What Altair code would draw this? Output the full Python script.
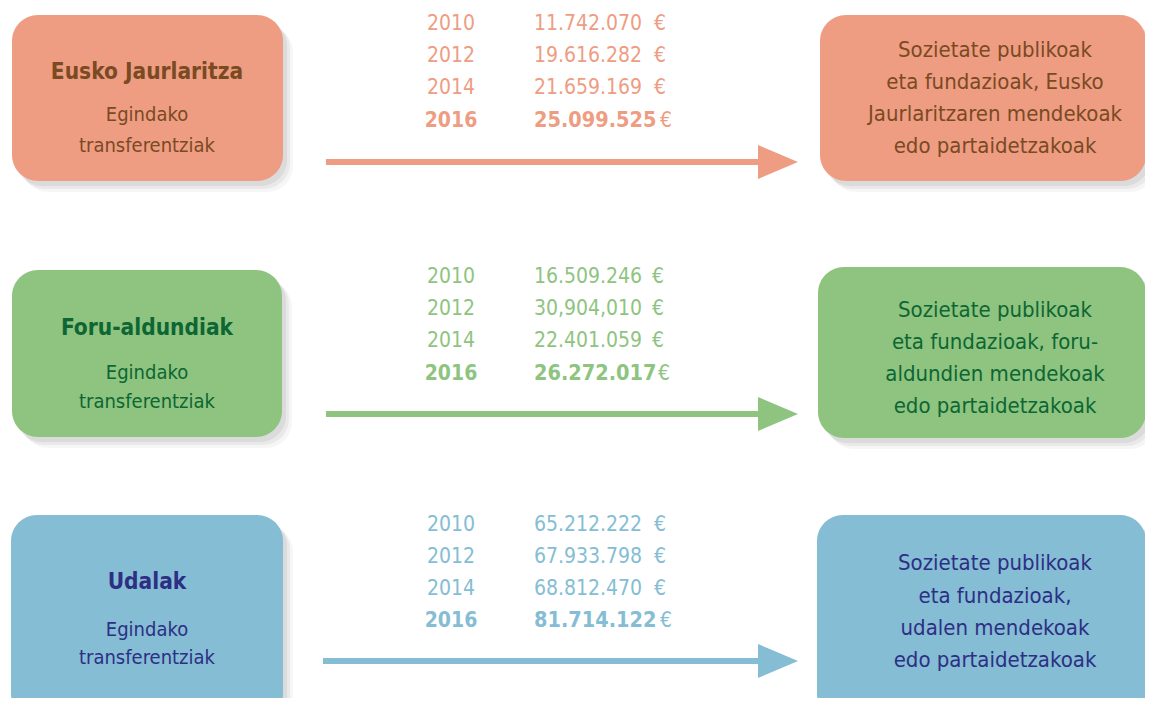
import altair as alt
import pandas as pd

# ---------------- data ----------------
sources = ["Eusko Jaurlaritza", "Foru-aldundiak", "Udalak"]
subtitle = ["Egindako", "transferentziak"]
targets = [
    ["Sozietate publikoak", "eta fundazioak, Eusko", "Jaurlaritzaren mendekoak", "edo partaidetzakoak"],
    ["Sozietate publikoak", "eta fundazioak, foru-", "aldundien mendekoak", "edo partaidetzakoak"],
    ["Sozietate publikoak", "eta fundazioak,", "udalen mendekoak", "edo partaidetzakoak"],
]
years = ["2010", "2012", "2014", "2016"]
amounts = [
    ["11.742.070", "19.616.282", "21.659.169", "25.099.525"],
    ["16.509.246", "30,904,010", "22.401.059", "26.272.017"],
    ["65.212.222", "67.933.798", "68.812.470", "81.714.122"],
]
fills = ["#EE9D82", "#8EC47F", "#84BDD4"]
inks = ["#7A4A22", "#0D6633", "#2E2F84"]

# ---------------- layout ----------------
M = 8
XMAX, YMAX = 1145, 698          # visible area without page scrollbars
FONT = "DejaVu Sans Condensed, DejaVu Sans, sans-serif"

left_box = [(12, 283, 15, 181), (12, 282, 270, 437), (11, 283, 515, 720)]
right_box = [(820, 1146, 15, 181), (818, 1146, 267, 438), (817, 1146, 515, 720)]
title_y = [72, 328, 582]
sub_y = [(115, 146), (373, 402), (630, 658)]
num_y = [(24, 56, 88, 121), (277, 309, 341, 374), (525, 557, 589, 621)]
euro_x = [(660, 660, 660, 666), (658, 658, 658, 664), (660, 660, 660, 666)]
arrow_y = [162, 414, 661]
arrow_x = [(326, 762), (326, 762), (323, 762)]
head_x = [778, 778, 778]
tgt_y = [(50, 82, 114, 146), (310, 342, 374, 406), (563, 596, 628, 660)]

boxes, shadows, arrows, heads = [], [], [], []
t_title, t_sub, t_tgt, t_num, t_numb, t_euro, t_year, t_yearb = [], [], [], [], [], [], [], []
for i in range(3):
    for (x0, x1, y0, y1) in (left_box[i], right_box[i]):
        boxes.append(dict(x=x0, x2=x1, y=y0, y2=y1, c=fills[i]))
        for (dx, dy, op) in [(10, 11, 0.035), (7, 8, 0.05), (4, 5, 0.06)]:
            shadows.append(dict(x=x0 + dx, x2=x1 + dx, y=y0 + dy, y2=y1 + dy, op=op))
    arrows.append(dict(x=arrow_x[i][0], x2=arrow_x[i][1], y=arrow_y[i], c=fills[i]))
    heads.append(dict(x=head_x[i], y=arrow_y[i], c=fills[i]))
    t_title.append(dict(x=147, y=title_y[i], t=sources[i], c=inks[i]))
    for j, s in enumerate(subtitle):
        t_sub.append(dict(x=147, y=sub_y[i][j], t=s, c=inks[i]))
    for j, s in enumerate(targets[i]):
        t_tgt.append(dict(x=995, y=tgt_y[i][j], t=s, c=inks[i]))
    for j in range(4):
        row = dict(y=num_y[i][j], c=fills[i])
        (t_numb if j == 3 else t_num).append(dict(row, x=534, t=amounts[i][j]))
        (t_yearb if j == 3 else t_year).append(dict(row, x=451, t=years[j]))
        t_euro.append(dict(row, x=euro_x[i][j], t="€"))

xs = alt.Scale(domain=[M, XMAX], nice=False, zero=False)
ys = alt.Scale(domain=[M, YMAX], nice=False, zero=False, reverse=True)
X = lambda f="x": alt.X(f"{f}:Q", scale=xs, axis=None)
Y = lambda f="y": alt.Y(f"{f}:Q", scale=ys, axis=None)
C = alt.Color("c:N", scale=None)


def D(rows):
    return alt.Chart(pd.DataFrame(rows))


shadow = D(shadows).mark_rect(cornerRadius=26, color="#000000", clip=True).encode(
    x=X(), x2="x2:Q", y=Y(), y2="y2:Q", opacity=alt.Opacity("op:Q", scale=None))
box = D(boxes).mark_rect(cornerRadius=26, clip=True).encode(
    x=X(), x2="x2:Q", y=Y(), y2="y2:Q", color=C)
arrow = D(arrows).mark_rule(strokeWidth=6).encode(x=X(), x2="x2:Q", y=Y(), color=C)
head = D(heads).mark_point(
    shape="M -1 -0.85 L 1 0 L -1 0.85 Z", size=1600, filled=True, opacity=1, strokeWidth=0
).encode(x=X(), y=Y(), color=C)


def txt(rows, size, weight="normal", align="center"):
    return D(rows).mark_text(font=FONT, fontSize=size, fontWeight=weight, align=align,
                             baseline="middle").encode(x=X(), y=Y(), text="t:N", color=C)


chart = alt.layer(
    shadow, box, arrow, head,
    txt(t_title, 22.5, "bold"),
    txt(t_sub, 20),
    txt(t_tgt, 22),
    txt(t_year, 21),
    txt(t_yearb, 21, "bold"),
    txt(t_num, 21, align="left"),
    txt(t_numb, 21.5, "bold", align="left"),
    txt(t_euro, 21),
).properties(
    width=XMAX - M, height=YMAX - M, padding=0, autosize="none", background="white"
).configure_view(stroke=None)

chart.save("out.html", embed_options={"renderer": "svg", "actions": False})
